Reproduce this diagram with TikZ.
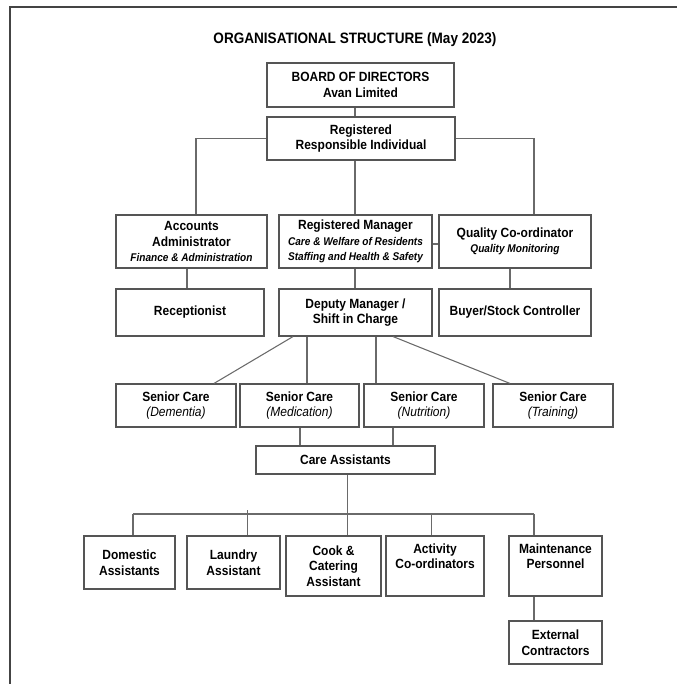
\documentclass[tikz,border=0pt]{standalone}
\usepackage{fontspec}
\setmainfont{Liberation Sans}[FakeStretch=0.9]
\newcommand\itsm{\fontsize{8.4}{10.5}\selectfont\bfseries\itshape}
\newcommand\itsc{\mdseries\itshape}
\newcommand\orgbox[6]{\node[box, minimum width={(#4-#2)*0.75pt}, minimum height={(#5-#3)*0.75pt}] (#1) at ({(#2+#4)/2},{(#3+#5)/2}) {#6};}
\definecolor{boxline}{HTML}{555555}
\definecolor{connline}{HTML}{6A6A6A}
\definecolor{frameline}{HTML}{444444}
\begin{document}
\begin{tikzpicture}[x=0.75pt,y=-0.75pt,
  box/.style={draw=boxline, line width=0.85pt, fill=white, inner sep=0pt, align=center,
    font=\fontsize{10}{11.6}\selectfont\bfseries},
  conn/.style={draw=connline, line width=0.8pt},
  frame/.style={draw=frameline, line width=1.6pt}]
\useasboundingbox (0,0) rectangle (676,684);
% frame
\coordinate (fTR) at (680,7);
\coordinate (fTL) at (10,7);
\coordinate (fBL) at (10,690);
\draw[frame] (fTR) -- (fTL) -- (fBL);
% title
\node[font=\fontsize{11.3}{13}\selectfont\bfseries] (title) at (355,40) {ORGANISATIONAL STRUCTURE (May 2023)};
% boxes
\orgbox{board}{267}{63}{454}{107}{BOARD OF DIRECTORS\\Avan Limited}
\orgbox{rri}{267}{117}{455}{160}{Registered\\Responsible Individual}
\orgbox{acc}{116}{215}{267}{268}{Accounts\\Administrator\\{\itsm Finance \& Administration}}
\orgbox{rm}{279}{215}{432}{268}{Registered Manager\\{\itsm Care \& Welfare of Residents}\\{\itsm Staffing and Health \& Safety}}
\orgbox{qc}{439}{215}{591}{268}{Quality Co-ordinator\\{\itsm Quality Monitoring}}
\orgbox{recep}{116}{289}{264}{336}{Receptionist}
\orgbox{dep}{279}{289}{432}{336}{Deputy Manager /\\Shift in Charge}
\orgbox{buyer}{439}{289}{591}{336}{Buyer/Stock Controller}
\orgbox{sca}{116}{384}{236}{427}{Senior Care\\{\itsc (Dementia)}}
\orgbox{scb}{240}{384}{359}{427}{Senior Care\\{\itsc (Medication)}}
\orgbox{scc}{364}{384}{484}{427}{Senior Care\\{\itsc (Nutrition)}}
\orgbox{scd}{493}{384}{613}{427}{Senior Care\\{\itsc (Training)}}
\orgbox{ca}{256}{446}{435}{474}{Care Assistants}
\orgbox{dom}{84}{536}{175}{589}{Domestic\\Assistants}
\orgbox{lau}{187}{536}{280}{589}{Laundry\\Assistant}
\orgbox{cook}{286}{536}{381}{596}{Cook \&\\Catering\\Assistant}
\orgbox{act}{386}{536}{484}{596}{Activity\\Co-ordinators\\\strut}
\orgbox{mnt}{509}{536}{602}{596}{Maintenance\\Personnel\\\strut}
\orgbox{ext}{509}{621}{602}{664}{External\\Contractors}
% connectors
\draw[conn] (board.south -| 355,0) -- (rri.north -| 355,0);
\draw[conn] (rri.west) -| (acc.north -| 196,0);
\draw[conn] (rri.east) -| (qc.north -| 534,0);
\draw[conn] (rri.south -| 355,0) -- (rm.north -| 355,0);
\draw[conn] (rm.east |- 0,244) -- (qc.west |- 0,244);
\draw[conn] (acc.south -| 187,0) -- (recep.north -| 187,0);
\draw[conn] (rm.south -| 355,0) -- (dep.north -| 355,0);
\draw[conn] (qc.south -| 510,0) -- (buyer.north -| 510,0);
\draw[conn] (dep.south -| 293,0) -- (sca.north -| 214,0);
\draw[conn] (dep.south -| 307,0) -- (scb.north -| 307,0);
\draw[conn] (dep.south -| 376,0) -- (scc.north -| 376,0);
\draw[conn] (dep.south -| 393,0) -- (scd.north -| 510,0);
\draw[conn] (scb.south -| 300,0) -- (ca.north -| 300,0);
\draw[conn] (scc.south -| 393,0) -- (ca.north -| 393,0);
\coordinate (busL) at (133,514);
\coordinate (busR) at (534,514);
\draw[conn] (busL) -- (busR);
\draw[conn] (ca.south -| 347.5,0) -- (cook.north -| 347.5,0);
\draw[conn] (busL) -- (dom.north -| busL);
\draw[conn] (lau.north -| 247.5,0) -- ++(0,-25);
\draw[conn] (act.north -| 431.5,0) -- (busR -| 431.5,0);
\draw[conn] (busR) -- (mnt.north -| busR);
\draw[conn] (mnt.south -| 534,0) -- (ext.north -| 534,0);
\end{tikzpicture}
\end{document}
